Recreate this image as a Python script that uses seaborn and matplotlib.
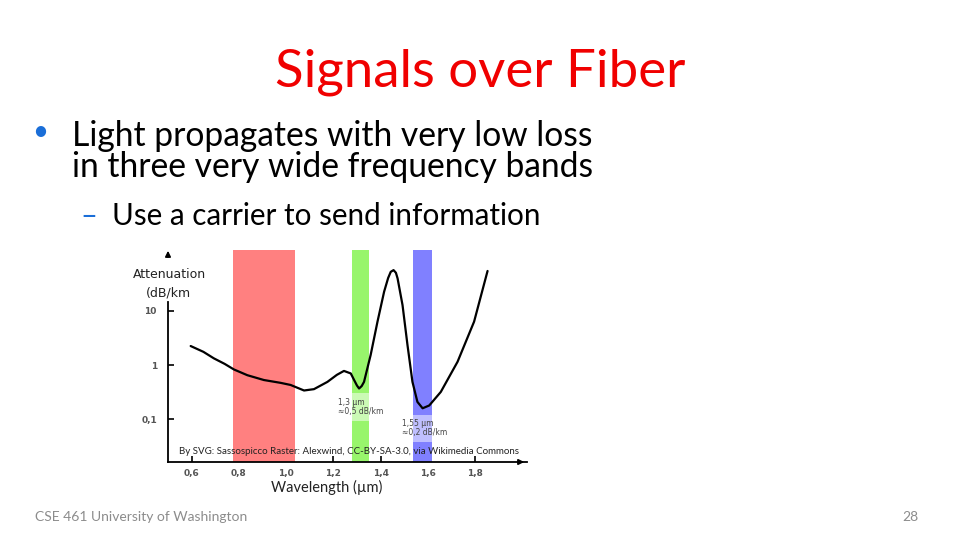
import matplotlib
matplotlib.use('Agg')
import matplotlib.pyplot as plt
import seaborn as sns

# Attenuation curve (wavelength in um, attenuation in dB/km)
wavelength = [0.596, 0.65, 0.694, 0.74, 0.779, 0.836, 0.906, 0.977, 1.019, 1.076,
              1.118, 1.175, 1.215, 1.245, 1.274, 1.288, 1.300, 1.309, 1.320, 1.330,
              1.358, 1.387, 1.415, 1.432, 1.443, 1.455, 1.465, 1.472, 1.493, 1.514,
              1.535, 1.556, 1.578, 1.606, 1.655, 1.726, 1.796, 1.853]
attenuation = [2.24, 1.75, 1.33, 1.05, 0.83, 0.65, 0.53, 0.47, 0.43, 0.34,
               0.36, 0.49, 0.66, 0.78, 0.70, 0.53, 0.42, 0.37, 0.41, 0.49,
               1.53, 6.3, 22.4, 40.0, 52.0, 56.0, 50.0, 39.5, 12.7, 2.33,
               0.49, 0.21, 0.16, 0.18, 0.32, 1.15, 6.3, 54.0]

# low-loss windows
band_lo = [0.777, 1.277, 1.539]
band_hi = [1.036, 1.350, 1.616]
band_colors = ['#ff8080', '#98f56c', '#8080ff']

xticks = [0.6, 0.8, 1.0, 1.2, 1.4, 1.6, 1.8]
xtick_labels = ['0,6', '0,8', '1,0', '1,2', '1,4', '1,6', '1,8']
yticks = [0.1, 1, 10]
ytick_labels = ['0,1', '1', '10']

sns.set_theme(style='white')
plt.rcParams['font.family'] = ['Lato', 'DejaVu Sans']

W, H = 960, 540
fig = plt.figure(figsize=(9.6, 5.4), dpi=100)
fig.patch.set_facecolor('white')

def fx(px):
    return px / W

def fy(py):
    return 1 - py / H

# slide text
fig.text(fx(480), fy(87), 'Signals over Fiber', ha='center', va='baseline',
         color='#f00000', fontsize=38)
fig.text(fx(40), fy(140), '\u2022', ha='center', va='baseline', color='#1a6ed8', fontsize=20)
fig.text(fx(72), fy(146), 'Light propagates with very low loss', ha='left', va='baseline',
         color='black', fontsize=24.2)
fig.text(fx(72), fy(177), 'in three very wide frequency bands', ha='left', va='baseline',
         color='black', fontsize=24.2)
fig.text(fx(89), fy(225), '\u2013', ha='center', va='baseline', color='#1a6ed8', fontsize=21)
fig.text(fx(112), fy(225), 'Use a carrier to send information', ha='left', va='baseline',
         color='black', fontsize=21.3)
fig.text(fx(35), fy(521), 'CSE 461 University of Washington', ha='left', va='baseline',
         color='#8c8c8c', fontsize=10)
fig.text(fx(918), fy(521), '28', ha='right', va='baseline', color='#8c8c8c', fontsize=10)

# chart
ax = fig.add_axes([fx(168), fy(462), (527 - 168) / W, (462 - 248) / H])
ax.set_facecolor('white')
ax.set_yscale('log')
ax.set_xlim(0.5, 2.02)
ax.set_ylim(0.0164, 143)

for lo, hi, c in zip(band_lo, band_hi, band_colors):
    ax.axvspan(lo, hi, ymin=0, ymax=0.99, color=c, lw=0, zorder=1)

sns.lineplot(x=wavelength, y=attenuation, ax=ax, color='black', lw=1.6, zorder=3)

ax.text(1.22, 0.169, '1,3 \u00b5m\n\u22480,5 dB/km', ha='left', va='center', fontsize=5.5,
        color='#444444', family=['DejaVu Sans'], linespacing=1.1, zorder=4,
        bbox=dict(boxstyle='square,pad=0.55', facecolor='white', alpha=0.5, lw=0))
ax.text(1.49, 0.069, '1,55 \u00b5m\n\u22480,2 dB/km', ha='left', va='center', fontsize=5.5,
        color='#444444', family=['DejaVu Sans'], linespacing=1.1, zorder=4,
        bbox=dict(boxstyle='square,pad=0.55', facecolor='white', alpha=0.5, lw=0))

ax.set_xticks(xticks)
ax.set_xticklabels(xtick_labels)
ax.set_yticks(yticks)
ax.set_yticklabels(ytick_labels)
ax.minorticks_off()
ax.tick_params(axis='both', direction='in', length=4, width=1.2, color='black',
               labelsize=6.5, labelcolor='#555555')
ax.tick_params(axis='x', pad=5, bottom=True)
ax.tick_params(axis='y', pad=8, left=True)
for lab in ax.get_xticklabels() + ax.get_yticklabels():
    lab.set_fontweight('bold')
    lab.set_family(['DejaVu Sans'])
ax.set_xlabel('')
ax.set_ylabel('')

ax.spines['top'].set_visible(False)
ax.spines['right'].set_visible(False)
for s in ['left', 'bottom']:
    ax.spines[s].set_color('black')
    ax.spines[s].set_linewidth(1.3)
ax.spines['left'].set_bounds(0.0164, 14.5)

# axis arrows
ax.annotate('', xy=(0, 1.0), xytext=(0, 0.945), xycoords='axes fraction',
            arrowprops=dict(arrowstyle='-|>', color='black', lw=1.2, mutation_scale=8))
ax.annotate('', xy=(1.0, 0), xytext=(0.97, 0), xycoords='axes fraction',
            arrowprops=dict(arrowstyle='-|>', color='black', lw=1.2, mutation_scale=8))

fig.text(fx(169), fy(278), 'Attenuation', ha='center', va='baseline', fontsize=9,
         color='#222222', family=['DejaVu Sans'])
fig.text(fx(168), fy(297), '(dB/km', ha='center', va='baseline', fontsize=9,
         color='#222222', family=['DejaVu Sans'])
fig.text(fx(327), fy(492), 'Wavelength (\u00b5m)', ha='center', va='baseline',
         fontsize=10.5, color='#222222')
fig.text(fx(179), fy(454), 'By SVG: Sassospicco Raster: Alexwind, CC-BY-SA-3.0, via Wikimedia Commons',
         ha='left', va='baseline', fontsize=7.0, color='#222222', zorder=5)

fig.savefig('out.png', dpi=100, facecolor='white')
